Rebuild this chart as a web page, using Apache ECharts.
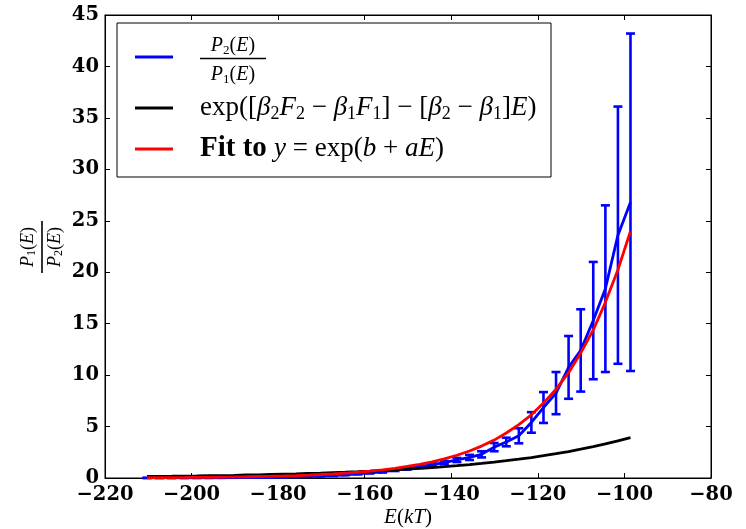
<!DOCTYPE html>
<html>
<head>
<meta charset="utf-8">
<script src="https://cdn.jsdelivr.net/npm/echarts@6/dist/echarts.min.js"></script>
<style>html,body{margin:0;padding:0;background:#fff;}#c{width:746px;height:529px;}</style>
</head>
<body>
<div id="c"></div>
<script>
const energy = [-210.3,-207.4,-204.6,-201.7,-198.8,-196.0,-193.1,-190.2,-187.4,-184.5,
  -181.7,-178.8,-175.9,-173.1,-170.2,-167.3,-164.5,-161.6,-158.8,-155.9,
  -153.0,-150.2,-147.3,-144.4,-141.6,-138.7,-135.8,-133.0,-130.1,-127.3,
  -124.4,-121.5,-118.7,-115.8,-112.9,-110.1,-107.2,-104.4,-101.5,-98.6];
const ratio = [0.006,0.008,0.01,0.012,0.015,0.02,0.025,0.03,0.04,0.05,
  0.065,0.085,0.11,0.14,0.18,0.23,0.31,0.4,0.5,0.6,
  0.76,0.92,1.1,1.3,1.5,1.75,2.0,2.3,3.0,3.5,
  4.1,5.4,6.85,8.25,10.75,12.4,15.3,18.4,23.6,26.8];
const ratioErr = [0.002,0.002,0.003,0.003,0.004,0.004,0.005,0.006,0.008,0.01,
  0.012,0.015,0.02,0.025,0.03,0.035,0.04,0.05,0.06,0.07,
  0.08,0.1,0.12,0.14,0.16,0.2,0.25,0.3,0.4,0.42,
  0.73,1.0,1.5,2.05,3.05,4.0,5.7,8.1,12.5,16.4];
const analytic = [0.15,0.16,0.17,0.19,0.20,0.22,0.24,0.26,0.29,0.31,
  0.34,0.37,0.40,0.44,0.47,0.52,0.56,0.61,0.66,0.72,
  0.79,0.86,0.93,1.01,1.10,1.20,1.31,1.42,1.55,1.68,
  1.83,1.99,2.17,2.36,2.57,2.80,3.04,3.31,3.60,3.92];
const fit = [0.031,0.037,0.044,0.052,0.062,0.073,0.087,0.10,0.12,0.145,
  0.17,0.20,0.24,0.285,0.34,0.40,0.48,0.56,0.67,0.79,
  0.94,1.12,1.32,1.57,1.86,2.21,2.62,3.10,3.68,4.37,
  5.18,6.14,7.28,8.63,10.24,12.14,14.39,17.07,20.24,24.0];
const xTicks = {min:-220, max:-80, step:20};
const yTicks = {min:0, max:45, step:5};

const chart = echarts.init(document.getElementById('c'), null, {renderer:'canvas'});
const tickFont = {fontFamily:'DejaVu Serif', fontWeight:'bold', fontSize:19.5, color:'#000'};
const fmt = v => v < 0 ? '\u2212' + Math.abs(v) : String(v);
const pair = arr => energy.map((e,i)=>[e, arr[i]]);
const serif = 'Liberation Serif';

const baseX = {type:'value', min:xTicks.min, max:xTicks.max, interval:xTicks.step,
  splitLine:{show:false}, axisLine:{show:true, onZero:false, lineStyle:{color:'#000', width:1}},
  axisTick:{show:true, inside:true, length:5, lineStyle:{color:'#000'}}};
const baseY = {type:'value', min:yTicks.min, max:yTicks.max, interval:yTicks.step,
  splitLine:{show:false}, axisLine:{show:true, onZero:false, lineStyle:{color:'#000', width:1}},
  axisTick:{show:true, inside:true, length:5, lineStyle:{color:'#000'}}};

const legendX = 117, legendY = 23;
const rich = {
  n:{fontFamily:serif, fontSize:27, lineHeight:31, color:'#000', verticalAlign:'middle'},
  i:{fontFamily:serif, fontSize:27, lineHeight:31, fontStyle:'italic', color:'#000', verticalAlign:'middle'},
  b:{fontFamily:serif, fontSize:29, lineHeight:31, fontWeight:'bold', color:'#000', verticalAlign:'middle'},
  s:{fontFamily:serif, fontSize:18, lineHeight:18, color:'#000', verticalAlign:'bottom'}
};
const richSmall = {
  i:{fontFamily:serif, fontSize:20, lineHeight:22, fontStyle:'italic', color:'#000', verticalAlign:'middle'},
  n:{fontFamily:serif, fontSize:20, lineHeight:22, color:'#000', verticalAlign:'middle'},
  s:{fontFamily:serif, fontSize:13, lineHeight:13, color:'#000', verticalAlign:'bottom'}
};
const richAxis = {
  i:{fontFamily:serif, fontSize:18, lineHeight:20, fontStyle:'italic', color:'#000', verticalAlign:'middle'},
  n:{fontFamily:serif, fontSize:18, lineHeight:20, color:'#000', verticalAlign:'middle'},
  s:{fontFamily:serif, fontSize:12, lineHeight:12, color:'#000', verticalAlign:'bottom'}
};

const option = {
  animation:false,
  backgroundColor:'#fff',
  grid:{left:105, right:35, top:15, bottom:51, show:true, borderColor:'#000', borderWidth:1, backgroundColor:'transparent'},
  xAxis:[
    Object.assign({}, baseX, {position:'bottom',
      axisLabel:Object.assign({}, tickFont, {margin:7, formatter:fmt})}),
    Object.assign({}, baseX, {position:'top', axisLabel:{show:false}})
  ],
  yAxis:[
    Object.assign({}, baseY, {position:'left',
      axisLabel:Object.assign({}, tickFont, {margin:6, formatter:fmt})}),
    Object.assign({}, baseY, {position:'right', axisLabel:{show:false}})
  ],
  series:[
    {name:'ratio', type:'line', data:pair(ratio), showSymbol:false, z:2,
      lineStyle:{color:'#0000ff', width:2.8}, itemStyle:{color:'#0000ff'}},
    {name:'err', type:'custom', z:2, data:energy.map((e,i)=>[e, ratio[i]-ratioErr[i], ratio[i]+ratioErr[i]]),
      renderItem:function(params, api){
        const lo = api.coord([api.value(0), api.value(1)]);
        const hi = api.coord([api.value(0), api.value(2)]);
        const w = 4.5;
        const st = {stroke:'#0000ff', lineWidth:2.6};
        return {type:'group', children:[
          {type:'line', shape:{x1:lo[0], y1:lo[1], x2:hi[0], y2:hi[1]}, style:st},
          {type:'line', shape:{x1:lo[0]-w, y1:lo[1], x2:lo[0]+w, y2:lo[1]}, style:st},
          {type:'line', shape:{x1:hi[0]-w, y1:hi[1], x2:hi[0]+w, y2:hi[1]}, style:st}
        ]};
      }},
    {name:'analytic', type:'line', data:pair(analytic), showSymbol:false, z:3,
      lineStyle:{color:'#000000', width:2.8}, itemStyle:{color:'#000'}},
    {name:'fit', type:'line', data:pair(fit), showSymbol:false, z:4,
      lineStyle:{color:'#ff0000', width:2.8}, itemStyle:{color:'#ff0000'}}
  ],
  graphic:[
    {type:'rect', z:100, shape:{x:legendX, y:legendY, width:434, height:154},
      style:{fill:'#fff', stroke:'#000', lineWidth:1}},
    {type:'line', z:101, shape:{x1:135, y1:57, x2:173, y2:57}, style:{stroke:'#0000ff', lineWidth:2.8}},
    {type:'line', z:101, shape:{x1:135, y1:108, x2:173, y2:108}, style:{stroke:'#000000', lineWidth:2.8}},
    {type:'line', z:101, shape:{x1:135, y1:149, x2:173, y2:149}, style:{stroke:'#ff0000', lineWidth:2.8}},
    {type:'text', z:101, x:233, y:46, style:{text:'{i|P}{s|2}{n|(}{i|E}{n|)}', rich:richSmall, align:'center', verticalAlign:'middle'}},
    {type:'line', z:101, shape:{x1:200, y1:58.5, x2:266, y2:58.5}, style:{stroke:'#000', lineWidth:1.6}},
    {type:'text', z:101, x:233, y:75, style:{text:'{i|P}{s|1}{n|(}{i|E}{n|)}', rich:richSmall, align:'center', verticalAlign:'middle'}},
    {type:'text', z:101, x:200, y:108, style:{
      text:'{n|exp([}{i|β}{s|2}{i|F}{s|2}{n| − }{i|β}{s|1}{i|F}{s|1}{n|] − [}{i|β}{s|2}{n| − }{i|β}{s|1}{n|]}{i|E}{n|)}',
      rich:rich, align:'left', verticalAlign:'middle'}},
    {type:'text', z:101, x:200, y:149, style:{
      text:'{b|Fit to }{i|y}{n| = exp(}{i|b}{n| + }{i|aE}{n|)}',
      rich:rich, align:'left', verticalAlign:'middle'}},
    {type:'text', x:408, y:517, style:{text:'{i|E}{n|(}{i|kT}{n|)}', align:'center', verticalAlign:'middle',
      rich:{i:{fontFamily:serif, fontSize:21, fontStyle:'italic', color:'#000'}, n:{fontFamily:serif, fontSize:21, color:'#000'}}}},
    {type:'text', x:28, y:247, rotation:Math.PI/2, style:{text:'{i|P}{s|1}{n|(}{i|E}{n|)}', rich:richAxis, align:'center', verticalAlign:'middle'}},
    {type:'line', shape:{x1:42, y1:221, x2:42, y2:273}, style:{stroke:'#000', lineWidth:1.6}},
    {type:'text', x:55, y:247, rotation:Math.PI/2, style:{text:'{i|P}{s|2}{n|(}{i|E}{n|)}', rich:richAxis, align:'center', verticalAlign:'middle'}}
  ]
};
chart.setOption(option);
</script>
</body>
</html>
